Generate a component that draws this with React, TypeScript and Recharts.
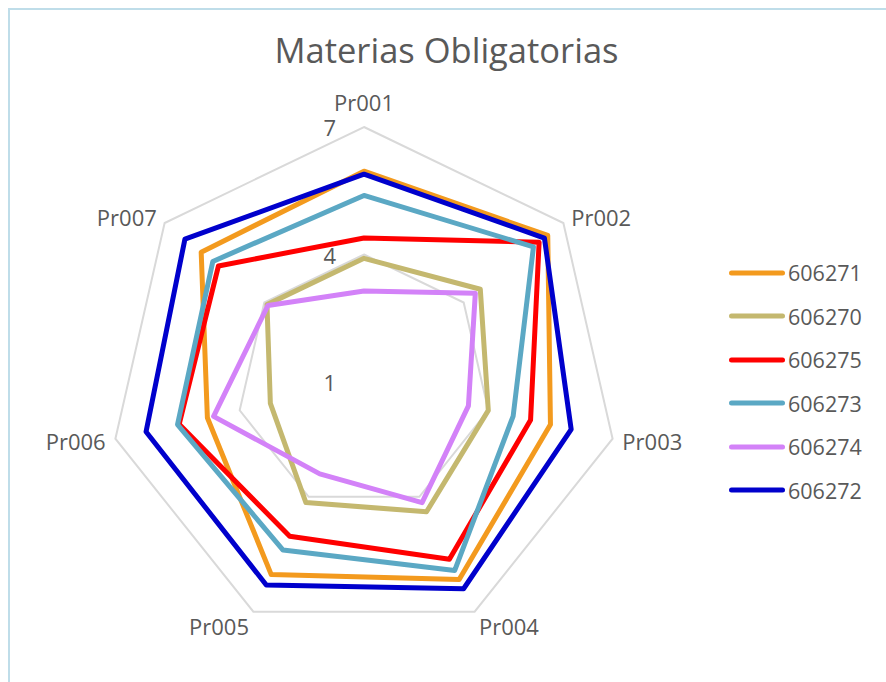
import { Legend, PolarAngleAxis, PolarGrid, PolarRadiusAxis, Radar, RadarChart } from 'recharts';

const subjects = ['Pr001', 'Pr002', 'Pr003', 'Pr004', 'Pr005', 'Pr006', 'Pr007'];

const s606271 = [5.96, 6.53, 5.5, 6.16, 6.03, 4.78, 5.9];
const s606270 = [3.91, 4.5, 4.0, 4.39, 4.15, 3.26, 3.92];
const s606275 = [4.39, 6.27, 5.02, 5.63, 5.03, 5.46, 5.38];
const s606273 = [5.39, 6.1, 4.6, 5.92, 5.39, 5.5, 5.55];
const s606274 = [3.14, 4.35, 3.52, 4.15, 3.4, 4.63, 3.89];
const s606272 = [5.89, 6.43, 6.0, 6.4, 6.3, 6.26, 6.39];

const seriesNames = ['606271', '606270', '606275', '606273', '606274', '606272'];
const seriesValues = [s606271, s606270, s606275, s606273, s606274, s606272];
const seriesColors = ['#f39a1e', '#c4b86f', '#ff0000', '#5ba8c4', '#d382f8', '#0000cc'];

const radiusTicks = [1, 4, 7];

const data = subjects.map((subject, i) => {
  const row: Record<string, string | number> = { subject };
  seriesNames.forEach((name, j) => {
    row[name] = seriesValues[j][i];
  });
  return row;
});

const CX = 364;
const CY = 382;
const RADIUS = 255;
const TEXT = '#595959';
const FONT = '"Open Sans", sans-serif';

const AngleTick = ({ payload }: any) => {
  const rad = (payload.coordinate * Math.PI) / 180;
  const cos = Math.cos(rad);
  const sin = Math.sin(rad);
  const x = CX + (RADIUS + 10) * cos;
  const y = CY - (RADIUS + 10) * sin;
  const anchor = cos > 0.1 ? 'start' : cos < -0.1 ? 'end' : 'middle';
  const dy = sin > 0.9 ? -15 : sin < -0.5 ? 5 : 0;
  return (
    <text x={x} y={y + dy} textAnchor={anchor} dominantBaseline="central" fill={TEXT} fontSize={22} fontFamily={FONT}>
      {payload.value}
    </text>
  );
};

const RadiusTick = ({ x, y, payload }: any) => (
  <text x={x - 28} y={y} textAnchor="end" dominantBaseline="central" fill={TEXT} fontSize={22} fontFamily={FONT}>
    {payload.value}
  </text>
);

// keep the legend in series order (recharts sorts by name otherwise)
const LegendContent = ({ payload = [] }: any) => {
  const items = [...payload].sort((a: any, b: any) => seriesNames.indexOf(a.value) - seriesNames.indexOf(b.value));
  return (
    <div>
      {items.map((item: any) => (
        <div key={item.value} style={{ display: 'flex', alignItems: 'center', height: 43.5 }}>
          <svg width={56} height={8} style={{ display: 'block' }}>
            <line x1={2.5} y1={4} x2={53.5} y2={4} stroke={item.color} strokeWidth={5} strokeLinecap="round" />
          </svg>
          <span style={{ marginLeft: 3, fontSize: 21.5, color: TEXT, fontFamily: FONT, lineHeight: 1 }}>{item.value}</span>
        </div>
      ))}
    </div>
  );
};

export default function App() {
  return (
    <div style={{ position: 'absolute', left: 0, top: 0, width: 886, height: 682, overflow: 'hidden', background: '#fff' }}>
      <div
        style={{
          position: 'absolute',
          left: 8,
          top: 8,
          width: 900,
          height: 700,
          borderLeft: '2.5px solid #bfdde9',
          borderTop: '2.5px solid #bfdde9',
        }}
      />
      <svg width={886} height={80} style={{ position: 'absolute', left: 0, top: 0 }}>
        <text x={446.5} y={63.3} textAnchor="middle" fill={TEXT} fontSize={34.5} fontFamily={FONT}>
          Materias Obligatorias
        </text>
      </svg>
      <div style={{ position: 'absolute', left: 0, top: 0 }}>
        <RadarChart width={886} height={682} data={data} cx={CX} cy={CY} outerRadius={RADIUS}>
          <PolarGrid gridType="polygon" radialLines={false} stroke="#d9d9d9" strokeWidth={2} />
          <PolarAngleAxis dataKey="subject" tick={<AngleTick />} tickLine={false} axisLine={false} />
          <PolarRadiusAxis
            angle={90}
            domain={[1, 7]}
            ticks={radiusTicks as any}
            tickCount={3}
            axisLine={false}
            tickLine={false}
            tick={<RadiusTick />}
          />
          {seriesNames.map((name, j) => (
            <Radar
              key={name}
              name={name}
              dataKey={name}
              stroke={seriesColors[j]}
              strokeWidth={5}
              strokeLinejoin="round"
              fill="none"
              fillOpacity={0}
              dot={false}
              isAnimationActive={false}
            />
          ))}
          <Legend
            content={<LegendContent />}
            wrapperStyle={{ position: 'absolute', left: 729, top: 251, width: 150, height: 270 }}
          />
        </RadarChart>
      </div>
    </div>
  );
}
